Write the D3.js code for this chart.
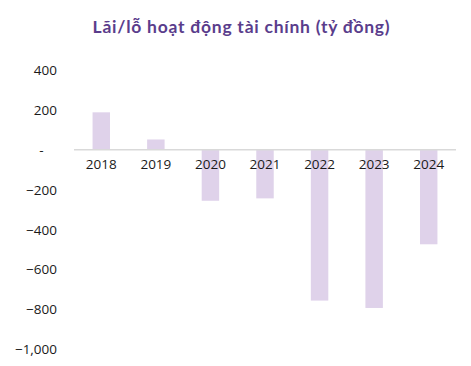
<!DOCTYPE html>
<html>
<head>
<meta charset="utf-8">
<script src="https://cdn.jsdelivr.net/npm/d3@7"></script>
<style>
  html, body { margin: 0; padding: 0; background: #fff; }
  svg { display: block; }
</style>
</head>
<body>
<svg id="chart" width="471" height="366"></svg>
<script>
const title = "Lãi/lỗ hoạt động tài chính (tỷ đồng)";
const years = ["2018", "2019", "2020", "2021", "2022", "2023", "2024"];
const values = [188, 52, -255, -243, -755, -792, -473];
const yTicks = [400, 200, 0, -200, -400, -600, -800, -1000];

const svg = d3.select("#chart");

svg.append("text")
  .attr("x", 241.5)
  .attr("y", 33)
  .attr("text-anchor", "middle")
  .attr("font-family", "Lato, 'Noto Sans', sans-serif")
  .attr("font-weight", 700)
  .attr("font-size", 17.5)
  .attr("letter-spacing", 0.75)
  .attr("fill", "#5a3d8c")
  .text(title);

const x = d3.scaleBand()
  .domain(years)
  .range([74, 456])
  .paddingInner(0.68)
  .paddingOuter(0.34);

const y = d3.scaleLinear()
  .domain([-1000, 400])
  .range([349.5, 70]);

// bars
svg.append("g").selectAll("rect")
  .data(years.map((d, i) => ({ year: d, value: values[i] })))
  .join("rect")
  .attr("x", d => x(d.year))
  .attr("width", x.bandwidth())
  .attr("y", d => y(Math.max(0, d.value)))
  .attr("height", d => Math.abs(y(d.value) - y(0)))
  .attr("fill", "#dfd2ea");

// zero line
svg.append("line")
  .attr("x1", 74).attr("x2", 456)
  .attr("y1", y(0)).attr("y2", y(0))
  .attr("stroke", "#d9d9d9")
  .attr("stroke-width", 1.5);

// y axis
const yAxis = d3.axisLeft(y)
  .tickValues(yTicks)
  .tickSize(0)
  .tickPadding(0)
  .tickFormat(d => d === 0 ? "-\u2002\u2002" : d3.format(",")(d));

const gy = svg.append("g")
  .attr("transform", "translate(57,0)")
  .call(yAxis);
gy.select(".domain").remove();
gy.selectAll("text")
  .attr("font-family", "'Open Sans', 'Liberation Sans', sans-serif")
  .attr("font-size", 13.5)
  .attr("fill", "#1a1a1a")
  .style("white-space", "pre");

// x axis labels
const xAxis = d3.axisBottom(x).tickSize(0).tickPadding(0);
const gx = svg.append("g")
  .attr("transform", `translate(0,${y(0) + 10})`)
  .call(xAxis);
gx.select(".domain").remove();
gx.selectAll("text")
  .attr("font-family", "'Open Sans', 'Liberation Sans', sans-serif")
  .attr("font-size", 13.5)
  .attr("fill", "#1a1a1a");
</script>
</body>
</html>
